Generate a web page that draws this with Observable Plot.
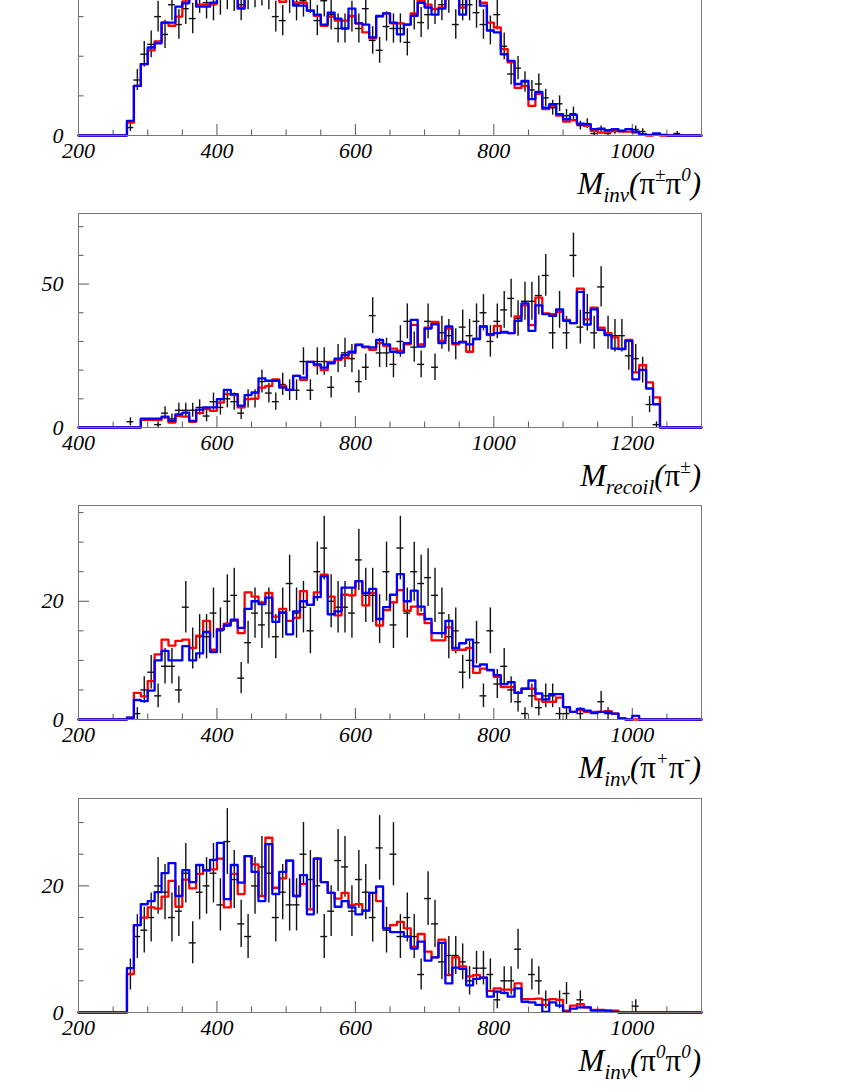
<!DOCTYPE html>
<html><head><meta charset="utf-8">
<script src="https://cdn.jsdelivr.net/npm/d3@7"></script>
<script src="https://cdn.jsdelivr.net/npm/@observablehq/plot@0.6"></script>
<style>
html,body{margin:0;padding:0;background:#fff;}
#page{position:relative;width:842px;height:1090px;overflow:hidden;background:#fff;}
#page svg{position:absolute;left:0;}
</style></head><body><div id="page"></div>
<script>
const binWidth = 10;

// ---- Panel 1: M_inv(pi+- pi0), bins of 10 starting at 270
const p1Start = 270;
const p1Blue = [7.4,25,36,44.4,46.5,57,57,65,66.7,72,65,65,67,72,74,72,64,72,75,76,74,72,70,72,65.5,65.5,63,61,56,62,59,54,64,56.6,56,49.5,60.4,61.6,57,51,56,60.4,67,64.6,61,64,70,72,61,70,72,65.5,53,52,41,37.7,26,27.6,18.4,22,14,15.8,10.8,8.2,10.4,6,5.7,3.2,3.5,2.7,3.2,2.4,3.2,2,0.7,0.3,1,0.3,0,0];
const p1Red = [6.5,25,36,43,47.5,57,55.4,60,67.7,72,66,66,66.5,72,74,72,64.6,72,75,76,74,72,67.5,72,67,67,63,60.4,55.4,60,58,58,60.4,56.6,52,49,60,61.6,56.6,56.6,56,61.6,68,66,63.8,64.6,71,72,64.6,71,72,67,57,54.5,43.6,36.9,24,25,15,21,13.3,15,10,7,7.7,5.7,4.9,2.4,1.5,2,2.4,2,2,1.5,0.5,0,0.5,0,0,0];
const p1Data = [4,28,41,46,60,51,66,56,64,59,70,67,66,69,72,71,66,72,73,74,72,60,58,70,66,68,70,58,68,61,54,54,60,54,64,48,43,55,54,54,47,61,57,61,64,66,70,56,66,66,62,56,53,61,45,31,34,27,23,26,19,14,16,10,11,5,6,1,3,1,2,0,0,3,2,0,0,0,0,1];

// ---- Panel 2: M_recoil(pi+-), bins of 10 starting at 440
const p2Start = 440;
const p2Blue = [0,0,0,0,0,3.1,3.1,3.1,3.8,2.3,4.6,5.2,2.3,6.2,7,7,9.9,13.1,11.6,7.6,11.3,12.2,17.1,16.3,16.3,13.9,13.1,18,17.4,22.9,22,20.9,22.4,24,25.2,26.4,28.7,28.2,27.9,30.5,29,26.4,26.1,29.4,37.5,28.2,34.5,36,29.4,35.2,29.4,29.8,29,30.8,35.2,32.5,32.9,33.3,32.9,37.2,43.3,33.7,42.6,39.5,38.9,41.2,37.2,36.4,47.3,35.9,41.2,34,32.2,27.5,27.3,30.2,16.8,20.1,13.6,8.1];
const p2Red = [0,0,0,0,0,2.7,2.7,2.7,3.5,1.7,4,3.8,2,5,6.4,5.8,8.7,11.6,11.3,7,9.9,10.1,13.9,14.5,16.8,14.5,13.1,18,16.6,22.9,21.7,20,22.9,23.6,24.3,25.9,29,27.9,27.1,29.4,28.5,27.5,26.7,29,35.8,29,34.8,36.8,30.2,34.5,29,29.8,26.4,31,35.2,32.2,35.4,33.1,32.9,38.7,42.6,35.7,45.3,39.8,39.5,40.3,37.5,36.4,48.4,37.7,41.8,34.8,32.9,31.4,27.5,30.5,19.2,21.7,15.7,10.5];
const p2Data = [0,0,0,2,0,0,0,1,5,3,6,6,6,7,4,9,7,10,9,5,10,10,16,12,9,15,13,13,23,13,23,23,14,24,26,24,16,21,39,26,26,22,30,37,28,22,37,21,33,32,29,35,32,37,40,30,37,41,45,38,44,44,46,53,33,41,33,60,35,40,33,49,33,32,32,25,24,20,8,1];

// ---- Panel 3: M_inv(pi+ pi-), bins of 10 starting at 270
const p3Start = 270;
const p3Blue = [0.3,3.3,3.1,4.9,10,11.6,10,10,12.4,10,11.2,14.8,11.4,15.2,15.9,16.9,15.5,18.7,20,19.5,20.6,16.5,18.1,14.4,18.3,20,19.4,20.7,24.2,17.8,18.3,22.3,22.3,23.4,21.4,22.1,17,19,21.1,24.6,20,21.8,19.1,17,14.6,14.6,16.7,12.1,12.9,13.5,9,9.3,8.4,7.5,6,6.3,4.5,5.2,6.6,4.4,3.4,4.3,4.3,2.1,1.3,1.8,1.5,1.1,1.3,1.3,1,0.2,0,0.6];
const p3Red = [0.3,4.5,3.9,6.5,11,13.5,12.5,13.3,13.5,12.1,14.2,16.7,11.8,15.3,16.2,16.7,14.6,21.5,20.8,19.8,21.4,17.4,18.7,16.7,17.2,21.7,19.4,21.5,24.5,20.8,17.6,21.1,21,23.4,19.3,21.4,15.9,18.5,19.8,21.9,18.4,19.1,17.8,16.3,13.4,13.4,15.6,11.8,11.8,12.1,7.9,8.6,8.3,7.2,5.5,5.5,4.5,5.2,5.2,3.4,3,3,3.7,2.1,1.3,1.6,1.3,1.3,1.3,1.4,1,0.2,0,0];
const p3Data = [0,1,5,8,4,9,9,5,19,12,14,14,18,15,20,21,7,13,18,16,18,14,18,23,18,19,15,25,29,20,19,19,18,27,21,21,17,25,16,29,18,25,23,24,21,18,14,15,8,10,13,4,15,6,9,5,3,1,4,2,4,4,1,1,0,1,0,0,3,1,0,0,0,0];

// ---- Panel 4: M_inv(pi0 pi0), bins of 10 starting at 270
const p4Start = 270;
const p4Blue = [7,13.8,17.1,17.6,19,22,23.6,18.4,22.5,20.6,23.3,22.5,24.1,26.8,17.9,23.3,20.5,24.7,22.2,17.6,26.6,18.7,22.2,24,18.4,21.7,15.5,24.3,20.6,18.9,16.7,17.6,16.6,15.5,16.1,18.9,19.9,13.3,12.7,12.7,12,10.1,11.2,8.2,8.7,11,4.6,7.1,6.9,4.3,5.3,5.5,2.5,3.3,3.1,2.5,3.8,1.7,1.6,1.2,0.1,1.6,1.1,0.1,0.6,0.8,0.8,0.3,0.3,0.3,0.1,0,0,0];
const p4Red = [6.1,13.8,15,16.6,16.4,18.3,20.8,16.7,21,19.6,21.9,22.4,22.6,24.3,16.6,21.9,18.7,24.7,23.4,18.4,27.6,19.7,21.2,24,18.4,20.3,16.3,24.3,20.6,18.9,18,18.9,17,17.1,16.1,18.9,17.6,13.3,13.8,14.3,13.3,10.4,12.4,9.6,8.7,11.5,5.9,8.7,7.3,5.7,5.9,5.5,3.4,3.8,3.6,3.6,4.6,2.1,2.1,2.2,1.2,2.1,2,0.3,1.1,1.3,0.8,0.4,0.4,0.3,0.3,0,0,0];
const p4Data = [6,12,13,15,20,19,15,16,22,11,19,20,22,17,27,21,14,12,20,23,22,15,19,17,17,25,21,20,12,16,24,23,16,21,19,15,26,13,25,12,15,12,6,18,14,8,9,9,8,5,7,7,6,2,5,5,10,0,6,5,2,0,2,3,0,2,0,0,0,0,0,0,0,1];

// ---- axes: tick labels
const xLabelsA = [200, 400, 600, 800, 1000];
const xLabelsB = [400, 600, 800, 1000, 1200];
const y1Labels = [0];
const y2Labels = [0, 50];
const y3Labels = [0, 20];
const y4Labels = [0, 20];

const panels = [
  {start: p1Start, blue: p1Blue, red: p1Red, data: p1Data, x: [200, 1100], yMax: 108, xLabels: xLabelsA, yLabels: y1Labels, yMajor: [0, 100], yMinorStep: 20,
   frameTop: -79.5, title: [["M", 0], ["inv", "sub"], ["(", 0], ["π", "g"], ["±", "sup"], ["π", "g"], ["0", "sup"], [")", 0]]},
  {start: p2Start, blue: p2Blue, red: p2Red, data: p2Data, x: [400, 1300], yMax: 74.6, xLabels: xLabelsB, yLabels: y2Labels, yMajor: y2Labels, yMinorStep: 10,
   frameTop: 212.7, title: [["M", 0], ["recoil", "sub"], ["(", 0], ["π", "g"], ["±", "sup"], [")", 0]]},
  {start: p3Start, blue: p3Blue, red: p3Red, data: p3Data, x: [200, 1100], yMax: 36.2, xLabels: xLabelsA, yLabels: y3Labels, yMajor: y3Labels, yMinorStep: 5,
   frameTop: 505.2, title: [["M", 0], ["inv", "sub"], ["(", 0], ["π", "g"], ["+", "sup"], ["π", "g"], ["-", "sup"], [")", 0]]},
  {start: p4Start, blue: p4Blue, red: p4Red, data: p4Data, x: [200, 1100], yMax: 33.8, xLabels: xLabelsA, yLabels: y4Labels, yMajor: y4Labels, yMinorStep: 5,
   frameTop: 797.7, title: [["M", 0], ["inv", "sub"], ["(", 0], ["π", "g"], ["0", "sup"], ["π", "g"], ["0", "sup"], [")", 0]]}
];

function steps(start, vals, lo, hi) {
  const pts = [{x: lo, y: 0}];
  vals.forEach((v, i) => pts.push({x: start + i * binWidth, y: v}));
  pts.push({x: start + vals.length * binWidth, y: 0});
  pts.push({x: hi, y: 0});
  return pts;
}
function points(start, vals) {
  return vals.map((v, i) => ({
    x0: start + i * binWidth, x1: start + (i + 1) * binWidth, xc: start + (i + 0.5) * binWidth,
    y: v, lo: Math.max(0, v - Math.sqrt(v)), hi: v + Math.sqrt(v)
  })).filter(d => d.y > 0);
}

const PLOT_H = 214, MT = 10, MB = 80, ML = 78, MR = 141;
const page = document.getElementById("page");
const font = "'Liberation Serif', 'Times New Roman', serif";

panels.forEach(p => {
  const xMinor = d3.range(p.x[0], p.x[1] + 1, 50).filter(v => !p.xLabels.includes(v));
  const yMinor = d3.range(p.yMinorStep, p.yMax, p.yMinorStep).filter(v => !p.yMajor.includes(v));
  const yMajor = p.yMajor.filter(v => v <= p.yMax);
  const pts = points(p.start, p.data);
  const chart = Plot.plot({
    width: 842, height: MT + PLOT_H + MB,
    marginLeft: ML, marginRight: MR, marginTop: MT, marginBottom: MB,
    style: {background: "transparent", fontFamily: font, fontStyle: "italic", fontSize: "22px", overflow: "visible", color: "#000"},
    x: {domain: p.x, axis: null},
    y: {domain: [0, p.yMax], axis: null},
    marks: [
      Plot.axisX(xMinor, {tickSize: -5.5, stroke: "#555", fill: "none", label: null}),
      Plot.axisX(p.xLabels, {tickSize: -11, stroke: "#555", fill: "none", label: null}),
      Plot.axisX(p.xLabels, {tickSize: 0, tickPadding: 7, tickFormat: "d", label: null, fill: "#000"}),
      Plot.axisY(yMinor, {tickSize: -5.5, stroke: "#555", fill: "none", label: null}),
      Plot.axisY(yMajor, {tickSize: -11, stroke: "#555", fill: "none", label: null}),
      Plot.axisY(p.yLabels, {tickSize: 0, tickPadding: 15, tickFormat: "d", label: null, fill: "#000"}),
      Plot.ruleX(pts, {x: "xc", y1: "lo", y2: "hi", stroke: "#111", strokeWidth: 1.4}),
      Plot.ruleY(pts, {y: "y", x1: "x0", x2: "x1", stroke: "#111", strokeWidth: 1.4}),
      Plot.line(steps(p.start, p.red, p.x[0], p.x[1]), {x: "x", y: "y", curve: "step-after", stroke: "#ff0000", strokeWidth: 2.3}),
      Plot.line(steps(p.start, p.blue, p.x[0], p.x[1]), {x: "x", y: "y", curve: "step-after", stroke: "#0000ff", strokeWidth: 2.3}),
      Plot.frame({stroke: "#777", strokeWidth: 1})
    ]
  });
  chart.style.top = (p.frameTop - MT) + "px";
  const svg = d3.select(chart);
  const t = svg.append("text")
    .attr("x", 842 - MR).attr("y", MT + PLOT_H + 59)
    .attr("text-anchor", "end")
    .style("font-family", font).style("font-style", "italic").style("font-size", "31px").attr("fill", "#000");
  let shift = 0;
  p.title.forEach(([s, kind]) => {
    const ts = t.append("tspan").text(s);
    let target = 0;
    if (kind === "sub") { target = 8; ts.style("font-size", "21px"); }
    else if (kind === "sup") { target = -13; ts.style("font-size", "19px"); }
    else if (kind === "g") { ts.style("font-style", "normal"); }
    ts.attr("dy", target - shift);
    shift = target;
  });
  page.appendChild(chart);
});
</script></body></html>
